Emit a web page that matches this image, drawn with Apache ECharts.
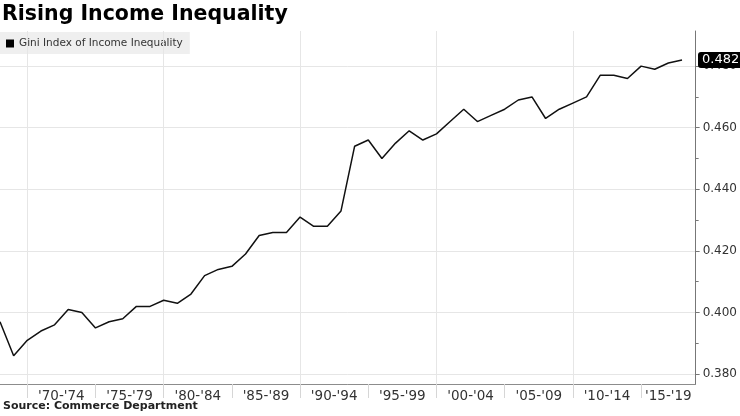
<!DOCTYPE html>
<html>
<head>
<meta charset="utf-8">
<script src="https://cdn.jsdelivr.net/npm/echarts@6/dist/echarts.min.js"></script>
<style>
html,body{margin:0;padding:0;background:#fff;}
#chart{width:740px;height:416px;}
</style>
</head>
<body>
<div id="chart"></div>
<script>
// ---- data ----
const years = [1967,1968,1969,1970,1971,1972,1973,1974,1975,1976,1977,1978,1979,1980,1981,1982,1983,1984,1985,1986,1987,1988,1989,1990,1991,1992,1993,1994,1995,1996,1997,1998,1999,2000,2001,2002,2003,2004,2005,2006,2007,2008,2009,2010,2011,2012,2013,2014,2015,2016,2017];
const gini = [0.397,0.386,0.391,0.394,0.396,0.401,0.400,0.395,0.397,0.398,0.402,0.402,0.404,0.403,0.406,0.412,0.414,0.415,0.419,0.425,0.426,0.426,0.431,0.428,0.428,0.433,0.454,0.456,0.450,0.455,0.459,0.456,0.458,0.462,0.466,0.462,0.464,0.466,0.469,0.470,0.463,0.466,0.468,0.470,0.477,0.477,0.476,0.480,0.479,0.481,0.482];
const periodLabels = ["'70-'74","'75-'79","'80-'84","'85-'89","'90-'94","'95-'99","'00-'04","'05-'09","'10-'14","'15-'19"];
const periodBoundaries = [1969,1974,1979,1984,1989,1994,1999,2004,2009,2014];
const verticalGridYears = [1969,1979,1989,1999,2009];
const yTicks = [0.38,0.40,0.42,0.44,0.46,0.48];
const yMinorTicks = [0.39,0.41,0.43,0.45,0.47];
const seriesName = 'Gini Index of Income Inequality';

const xMin = 1967, xMax = 2018;
const yMin = 0.3768, yMax = 0.4914;

const labelPositions = periodBoundaries.map((b, i) => {
  const end = Math.min(i + 1 < periodBoundaries.length ? periodBoundaries[i + 1] : xMax, xMax);
  return (b + end) / 2;
});

const chart = echarts.init(document.getElementById('chart'));
const font = 'DejaVu Sans';

chart.setOption({
  animation: false,
  backgroundColor: '#fff',
  title: {
    text: 'Rising Income Inequality',
    left: 2, top: 4, padding: 0,
    textStyle: {fontFamily: font, fontWeight: 'bold', fontSize: 20.5, color: '#000'}
  },
  graphic: [{
    type: 'text', left: 3, top: 401,
    style: {text: 'Source: Commerce Department', fontFamily: font, fontWeight: 'bold', fontSize: 11, fill: '#222'}
  }],
  legend: {
    left: 0, top: 32,
    padding: [6, 7, 5, 6],
    backgroundColor: '#efefef',
    icon: 'rect', itemWidth: 8, itemHeight: 8, itemGap: 4,
    textStyle: {fontFamily: font, fontSize: 10.5, color: '#333'},
    data: [seriesName]
  },
  grid: {left: 0, right: 43, top: 31, bottom: 32, containLabel: false},
  xAxis: {
    type: 'value', min: xMin, max: xMax,
    axisLine: {show: true, lineStyle: {color: '#8c8c8c', width: 1}},
    axisTick: {show: true, customValues: periodBoundaries, length: 14, lineStyle: {color: '#d6d6d6'}},
    axisLabel: {
      show: true, customValues: labelPositions,
      formatter: v => {
        let best = 0, d = Infinity;
        labelPositions.forEach((p, i) => { if (Math.abs(p - v) < d) { d = Math.abs(p - v); best = i; } });
        return periodLabels[best];
      },
      fontFamily: font, fontSize: 13.5, color: '#333', margin: 5
    },
    splitLine: {show: false}
  },
  yAxis: [{
    type: 'value', position: 'right', min: yMin, max: yMax,
    axisLine: {show: true, lineStyle: {color: '#777', width: 1}},
    axisTick: {show: true, customValues: yTicks, length: 4, lineStyle: {color: '#777'}},
    axisLabel: {show: true, customValues: yTicks, formatter: v => v.toFixed(3), fontFamily: font, fontSize: 12, color: '#333', margin: 7},
    splitLine: {show: true, lineStyle: {color: '#e6e6e6', width: 1}}
  }, {
    type: 'value', position: 'right', min: yMin, max: yMax,
    axisLine: {show: false},
    axisTick: {show: true, customValues: yMinorTicks, length: 3, lineStyle: {color: '#777'}},
    axisLabel: {show: false},
    splitLine: {show: false}
  }],
  series: [{
    name: 'grid',
    type: 'line',
    data: [],
    z: 1,
    silent: true,
    markLine: {
      silent: true, symbol: 'none', label: {show: false},
      lineStyle: {color: '#e6e6e6', width: 1, type: 'solid'},
      emphasis: {disabled: true},
      data: verticalGridYears.map(v => ({xAxis: v}))
    }
  }, {
    name: seriesName,
    type: 'line',
    yAxisIndex: 0,
    data: years.map((y, i) => [y, gini[i]]),
    showSymbol: false, symbol: 'none',
    itemStyle: {color: '#000'},
    lineStyle: {color: '#111', width: 1.5},
    endLabel: {
      show: true,
      formatter: p => p.value[1].toFixed(3),
      offset: [8, 0],
      backgroundColor: '#000', color: '#fff',
      borderRadius: 3, padding: [2, 3, 1, 4],
      fontFamily: font, fontSize: 13
    },
    z: 5
  }]
});
</script>
</body>
</html>
